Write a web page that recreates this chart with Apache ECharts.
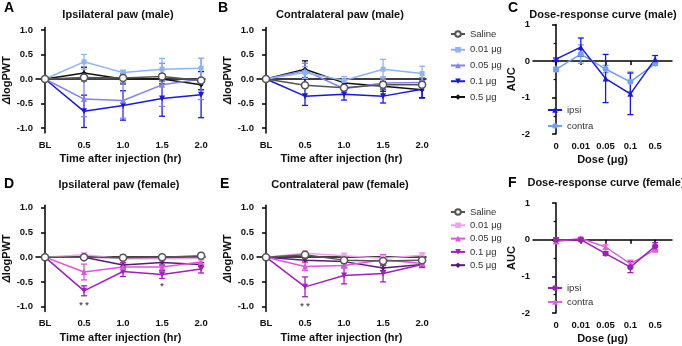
<!DOCTYPE html>
<html>
<head>
<meta charset="utf-8">
<script src="https://cdn.jsdelivr.net/npm/echarts@6/dist/echarts.min.js"></script>
<style>
html, body { margin: 0; padding: 0; background: #fff; }
#chart { width: 682px; height: 346px; }
</style>
</head>
<body>
<div id="chart"></div>
<script>
var timeLabels = ['BL', '0.5', '1.0', '1.5', '2.0'];
var doseLabels = ['0', '0.01', '0.05', '0.1', '0.5'];
var groups = ['Saline', '0.01 μg', '0.05 μg', '0.1 μg', '0.5 μg'];
var sides = ['ipsi', 'contra'];

// A: ipsilateral, male (rows follow groups)
var ipsiMale = [
    [0, 0.03, 0.02, 0.05, -0.03],
    [0, 0.35, 0.13, 0.20, 0.22],
    [0, -0.41, -0.44, -0.12, 0.00],
    [0, -0.66, -0.54, -0.40, -0.32],
    [0, 0.12, 0.00, 0.00, -0.12]
];
var ipsiMaleErr = [
    [0, 0.04, 0.04, 0.04, 0.04],
    [0, 0.15, 0.05, 0.22, 0.20],
    [0, 0.36, 0.36, 0.44, 0.42],
    [0, 0.33, 0.30, 0.36, 0.47],
    [0, 0.12, 0.10, 0.10, 0.10]
];
// B: contralateral, male
var contraMale = [
    [0, -0.13, -0.18, -0.12, -0.12],
    [0, 0.13, -0.03, 0.20, 0.11],
    [0, 0.17, -0.20, -0.08, -0.07],
    [0, -0.35, -0.31, -0.35, -0.21],
    [0, 0.20, -0.08, -0.15, -0.22]
];
var contraMaleErr = [
    [0, 0.05, 0.04, 0.04, 0.04],
    [0, 0.12, 0.08, 0.20, 0.15],
    [0, 0.15, 0.08, 0.12, 0.10],
    [0, 0.19, 0.12, 0.14, 0.18],
    [0, 0.17, 0.08, 0.10, 0.16]
];
// C: AUC, male (ipsi, contra)
var aucMale = [
    [0.05, 0.38, -0.48, -0.90, 0.05],
    [-0.23, 0.19, -0.22, -0.57, -0.07]
];
var aucMaleErr = [
    [0.03, 0.25, 0.66, 0.57, 0.10],
    [0.06, 0.25, 0.10, 0.27, 0.05]
];
// D: ipsilateral, female
var ipsiFemale = [
    [0, 0.00, -0.01, 0.00, 0.03],
    [0, 0.05, -0.03, -0.03, -0.02],
    [0, -0.30, -0.20, -0.20, -0.10],
    [0, -0.68, -0.29, -0.35, -0.24],
    [0, 0.00, -0.16, -0.11, -0.15]
];
var ipsiFemaleErr = [
    [0, 0.03, 0.05, 0.05, 0.05],
    [0, 0.04, 0.04, 0.04, 0.04],
    [0, 0.16, 0.08, 0.10, 0.06],
    [0, 0.10, 0.10, 0.08, 0.08],
    [0, 0.03, 0.05, 0.05, 0.04]
];
// E: contralateral, female
var contraFemale = [
    [0, 0.05, -0.06, -0.08, -0.06],
    [0, 0.08, 0.03, -0.02, 0.04],
    [0, -0.19, -0.17, -0.05, -0.13],
    [0, -0.60, -0.37, -0.33, -0.15],
    [0, -0.06, -0.09, -0.22, -0.15]
];
var contraFemaleErr = [
    [0, 0.04, 0.05, 0.05, 0.05],
    [0, 0.05, 0.05, 0.05, 0.05],
    [0, 0.08, 0.05, 0.10, 0.05],
    [0, 0.20, 0.17, 0.17, 0.06],
    [0, 0.04, 0.04, 0.05, 0.05]
];
// F: AUC, female (ipsi, contra)
var aucFemale = [
    [0.00, 0.00, -0.38, -0.75, -0.18],
    [-0.05, 0.03, -0.20, -0.66, -0.27]
];
var aucFemaleErr = [
    [0.05, 0.04, 0.05, 0.15, 0.10],
    [0.05, 0.04, 0.06, 0.10, 0.06]
];
// significance marks: [time index, y, text]
var starsIpsiFemale = [[1, -0.97, '* *'], [3, -0.60, '*']];
var starsContraFemale = [[1, -1.00, '* *']];

var maleColors = ['#555555', '#8fb3f5', '#8282f0', '#1717e6', '#111111'];
var femaleColors = ['#555555', '#f0a2ec', '#e052e0', '#a21fc0', '#5b1b72'];
var symbols = ['circle', 'rect', 'triangle', 'triangle', 'diamond'];
var symbolRot = [0, 0, 0, 180, 0];
var symbolSizes = [7, 5, 6, 6, 5];

var chart = echarts.init(document.getElementById('chart'));

var labelFont = { fontSize: 9.5, fontWeight: 'bold', color: '#111', fontFamily: 'Liberation Sans' };
var nameFont = { fontSize: 11, fontWeight: 'bold', color: '#111', fontFamily: 'Liberation Sans' };
var axisLine = { show: true, lineStyle: { color: '#000', width: 1.5 } };

var grids = [
    { left: 36, top: 27.5, width: 169, height: 105.4 },
    { left: 257, top: 27.5, width: 169, height: 105.4 },
    { left: 533, top: 24.5, width: 139, height: 109.5 },
    { left: 36, top: 205.2, width: 169, height: 106.4 },
    { left: 257, top: 205.2, width: 169, height: 106.4 },
    { left: 533, top: 203, width: 139, height: 110 }
].map(function (g) { g.outerBoundsMode = 'none'; g.containLabel = false; return g; });

function timeX(gi) {
    return {
        type: 'value', gridIndex: gi, min: -0.23, max: 4.1, offset: 3,
        axisLine: axisLine,
        axisTick: { show: true, length: 4, customValues: [0, 1, 2, 3, 4], lineStyle: { color: '#000', width: 1.5 } },
        axisLabel: Object.assign({ customValues: [0, 1, 2, 3, 4], margin: 4,
            formatter: function (v) { return timeLabels[Math.round(v)]; } }, labelFont),
        splitLine: { show: false },
        name: 'Time after injection (hr)', nameLocation: 'middle', nameGap: 18, nameTextStyle: nameFont
    };
}
function timeY(gi) {
    var ticks = [-1, -0.5, 0, 0.5, 1];
    return {
        type: 'value', gridIndex: gi, min: -1.1, max: 1.05,
        axisLine: axisLine,
        axisTick: { show: true, length: 4, customValues: ticks, lineStyle: { color: '#000', width: 1.5 } },
        axisLabel: Object.assign({ customValues: ticks, margin: 3,
            formatter: function (v) { return v.toFixed(1); } }, labelFont),
        splitLine: { show: false },
        name: '{d|Δ}logPWT', nameLocation: 'middle', nameGap: 18,
        nameTextStyle: Object.assign({ rich: { d: { fontStyle: 'italic', fontWeight: 'bold', fontSize: 11, fontFamily: 'Liberation Sans', color: '#111' } } }, nameFont)
    };
}
function doseX(gi) {
    return {
        type: 'value', gridIndex: gi, min: -0.93, max: 4.68, offset: 2,
        axisLine: axisLine,
        axisTick: { show: true, length: 4, customValues: [0, 1, 2, 3, 4], lineStyle: { color: '#000', width: 1.5 } },
        axisLabel: Object.assign({ customValues: [0, 1, 2, 3, 4], margin: 5,
            formatter: function (v) { return doseLabels[Math.round(v)]; } }, labelFont),
        splitLine: { show: false },
        name: 'Dose (μg)', nameLocation: 'middle', nameGap: 18, nameTextStyle: nameFont
    };
}
function doseY(gi) {
    return {
        type: 'value', gridIndex: gi, min: -2, max: 1, interval: 1,
        axisLine: axisLine,
        axisTick: { show: true, length: 4, lineStyle: { color: '#000', width: 1.5 } },
        minorTick: { show: true, splitNumber: 2, length: 2.5, lineStyle: { color: '#000', width: 1.2 } },
        axisLabel: Object.assign({ margin: 3 }, labelFont),
        splitLine: { show: false },
        name: 'AUC', nameLocation: 'middle', nameGap: 13, nameTextStyle: nameFont
    };
}

function renderErr(params, api) {
    var x = api.value(0), y = api.value(1), e = api.value(2);
    if (!e) return;
    var a = api.coord([x, y + e]), b = api.coord([x, y - e]);
    var w = 3;
    var st = { stroke: api.visual('color'), lineWidth: 1.3 };
    return {
        type: 'group',
        children: [
            { type: 'line', shape: { x1: a[0], y1: a[1], x2: b[0], y2: b[1] }, style: st },
            { type: 'line', shape: { x1: a[0] - w, y1: a[1], x2: a[0] + w, y2: a[1] }, style: st },
            { type: 'line', shape: { x1: b[0] - w, y1: b[1], x2: b[0] + w, y2: b[1] }, style: st }
        ]
    };
}

var series = [];
function addGroup(name, gi, ys, errs, color, symbol, rot, size, hollow) {
    series.push({
        type: 'custom', xAxisIndex: gi, yAxisIndex: gi, renderItem: renderErr,
        itemStyle: { color: color }, silent: true, z: 2,
        data: ys.map(function (v, i) { return [i, v, errs[i]]; })
    });
    series.push({
        type: 'line', name: name, xAxisIndex: gi, yAxisIndex: gi,
        data: ys.map(function (v, i) { return [i, v]; }),
        symbol: symbol, symbolRotate: rot, symbolSize: size, showAllSymbol: true,
        lineStyle: { color: color, width: 1.5 },
        itemStyle: hollow ? { color: '#fff', borderColor: color, borderWidth: 1.5 } : { color: color, borderWidth: 0 },
        z: hollow ? 4 : 3, animation: false
    });
}
function addStars(gi, stars) {
    series.push({
        type: 'custom', xAxisIndex: gi, yAxisIndex: gi, silent: true,
        data: stars.map(function (s) { return [s[0], s[1]]; }),
        renderItem: function (params, api) {
            var p = api.coord([api.value(0), api.value(1)]);
            return { type: 'text', x: p[0], y: p[1],
                style: { text: stars[params.dataIndex][2], fill: '#555', font: 'bold 9px "Liberation Sans"', align: 'center', verticalAlign: 'middle' } };
        }
    });
}

// time-course panels: draw doses first, saline last so it sits on top
[[0, ipsiMale, ipsiMaleErr, maleColors, 'm'], [1, contraMale, contraMaleErr, maleColors, 'm'],
 [3, ipsiFemale, ipsiFemaleErr, femaleColors, 'f'], [4, contraFemale, contraFemaleErr, femaleColors, 'f']]
.forEach(function (p) {
    [4, 3, 2, 1, 0].forEach(function (k) {
        addGroup(p[4] + ':' + groups[k], p[0], p[1][k], p[2][k], p[3][k], symbols[k], symbolRot[k], symbolSizes[k], k === 0);
    });
});
addStars(3, starsIpsiFemale);
addStars(4, starsContraFemale);

// dose-response panels
addGroup('c:contra', 2, aucMale[1], aucMaleErr[1], '#6fa0f3', 'circle', 0, 6, false);
addGroup('c:ipsi', 2, aucMale[0], aucMaleErr[0], '#1818e6', 'triangle', 0, 6, false);
addGroup('g:contra', 5, aucFemale[1], aucFemaleErr[1], '#e25ee0', 'triangle', 0, 6, false);
addGroup('g:ipsi', 5, aucFemale[0], aucFemaleErr[0], '#9c20b8', 'circle', 0, 6, false);

function stripPrefix(name) { return name.split(':')[1]; }
var legendBase = { orient: 'vertical', itemWidth: 14, itemHeight: 7, formatter: stripPrefix,
    textStyle: { fontSize: 9.5, color: '#333', fontFamily: 'Liberation Sans', lineHeight: 10 }, selectedMode: false };

var legends = [
    Object.assign({ left: 445, top: 24, itemGap: 5.75, data: groups.map(function (g) { return 'm:' + g; }) }, legendBase),
    Object.assign({ left: 445, top: 202, itemGap: 3.3, data: groups.map(function (g) { return 'f:' + g; }) }, legendBase),
    Object.assign({ left: 542, top: 100, itemGap: 6, data: ['c:ipsi', 'c:contra'] }, legendBase),
    Object.assign({ left: 542, top: 278, itemGap: 4, data: ['g:ipsi', 'g:contra'] }, legendBase)
];

var letters = [['A', 4, 8], ['B', 218, 8], ['C', 508, 8], ['D', 4, 184], ['E', 220, 184], ['F', 508, 183]];
var titles = [
    ['Ipsilateral paw (male)', 118, 15], ['Contralateral paw (male)', 340, 15], ['Dose-response curve (male)', 603, 15],
    ['Ipsilateral paw (female)', 119, 185], ['Contralateral paw (female)', 340, 185], ['Dose-response curve (female)', 606, 183]
];
var graphics = letters.map(function (l) {
    return { type: 'text', x: l[1], y: l[2], style: { text: l[0], font: 'bold 14px "Liberation Sans"', fill: '#000', verticalAlign: 'middle' } };
}).concat(titles.map(function (t) {
    return { type: 'text', x: t[1], y: t[2], style: { text: t[0], font: 'bold 11px "Liberation Sans"', fill: '#111', align: 'center', verticalAlign: 'middle' } };
}));

chart.setOption({
    animation: false,
    grid: grids,
    xAxis: [timeX(0), timeX(1), doseX(2), timeX(3), timeX(4), doseX(5)],
    yAxis: [timeY(0), timeY(1), doseY(2), timeY(3), timeY(4), doseY(5)],
    legend: legends,
    graphic: graphics,
    series: series
});
</script>
</body>
</html>
